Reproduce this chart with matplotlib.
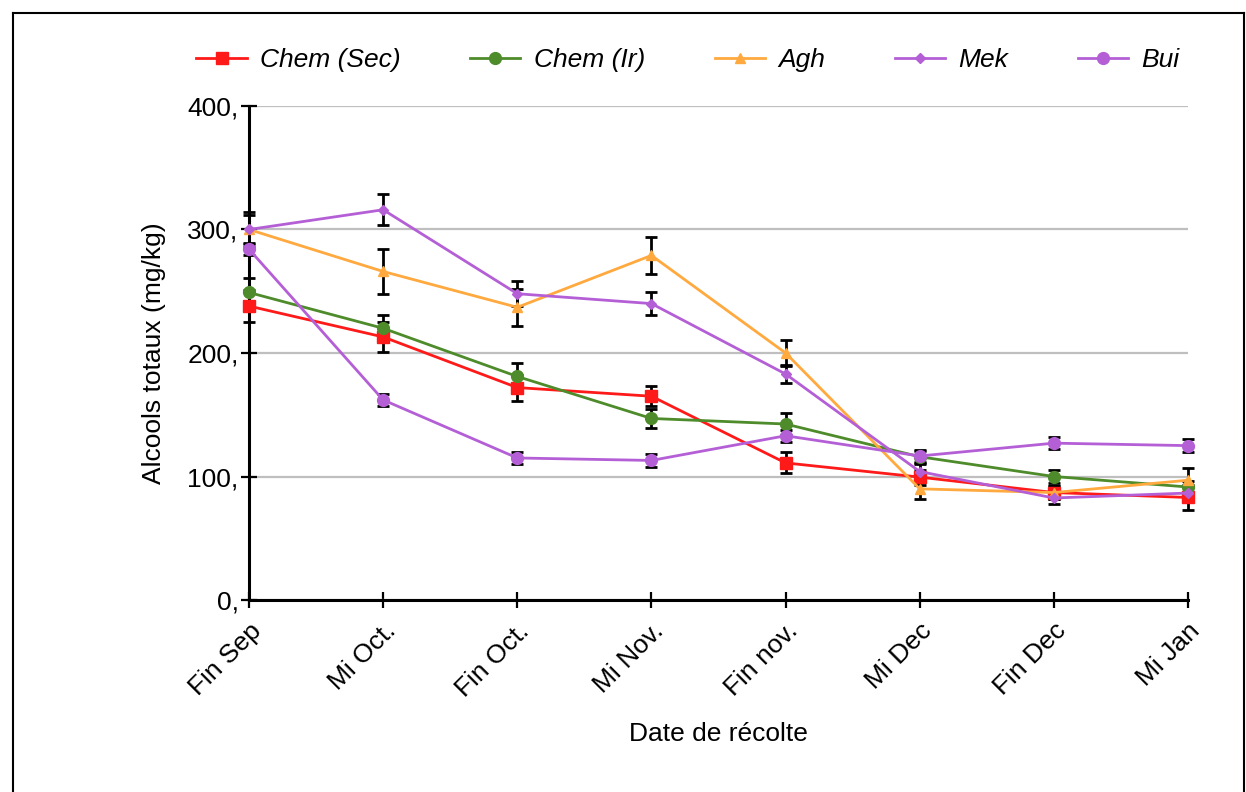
import matplotlib
matplotlib.use("Agg")
import matplotlib.pyplot as plt
from matplotlib.lines import Line2D
from matplotlib.ticker import FuncFormatter

plt.rcParams['font.family'] = ['Liberation Sans', 'DejaVu Sans']

categories = ["Fin Sep", "Mi Oct.", "Fin Oct.", "Mi Nov.", "Fin nov.", "Mi Dec", "Fin Dec", "Mi Jan"]

chem_sec = [238, 213, 172, 165, 111, 99.5, 87, 83]
chem_sec_err = [13, 12, 10.5, 8, 8.5, 6, 5, 10]
chem_ir = [249, 220, 181, 147, 142.5, 116, 100, 91.5]
chem_ir_err = [12, 11, 11, 8, 9, 5, 5, 5]
agh = [300, 266, 237, 279, 200, 90, 87, 97]
agh_err = [12, 18, 15, 15, 10.5, 8, 5, 10]
mek = [300, 316, 248, 240, 183, 104, 82.6, 86.6]
mek_err = [14, 12.5, 10, 9.5, 7, 6, 5, 5]
bui = [284, 162, 115, 113, 133, 116.6, 127, 125]
bui_err = [5, 5, 5, 5, 5, 5, 5, 5]

series = [
    ("Chem (Sec)", chem_sec, chem_sec_err, "#FF1A1A", "s", 8),
    ("Chem (Ir)", chem_ir, chem_ir_err, "#4E8B2A", "o", 8.5),
    ("Agh", agh, agh_err, "#FFA93E", "^", 7),
    ("Mek", mek, mek_err, "#B45FD6", "D", 5),
    ("Bui", bui, bui_err, "#B45FD6", "o", 8.5),
]

FS = 19
W, H = 1246, 792
fig = plt.figure(figsize=(W / 100, H / 100), dpi=100)
ax = fig.add_axes([249 / W, 1 - 600 / H, (1188 - 249) / W, (600 - 106) / H])

x = list(range(len(categories)))
handles = []
for name, vals, err, col, mk, ms in series:
    eb = ax.errorbar(x, vals, yerr=err, fmt='none', ecolor='black', elinewidth=2,
                     capsize=4.5, capthick=2, zorder=3)
    for art in eb.lines[1] + eb.lines[2]:
        art.set_clip_on(False)
    h, = ax.plot(x, vals, color=col, marker=mk, markersize=ms, linewidth=2,
                 markeredgecolor=col, zorder=4, label=name, clip_on=False)
    handles.append(h)

ax.set_xlim(0, len(categories) - 1)
ax.set_ylim(0, 400)
ax.set_yticks([0, 100, 200, 300, 400])
ax.yaxis.set_major_formatter(FuncFormatter(lambda v, p: f"{v:.0f},"))
ax.set_xticks(x)
ax.set_xticklabels(categories, rotation=45, ha='right', rotation_mode='anchor')

ax.grid(axis='y', color='#BFBFBF', linewidth=1.6, zorder=0)
ax.set_axisbelow(True)
for s in ['top', 'right']:
    ax.spines[s].set_visible(False)
ax.spines['left'].set_linewidth(2.2)
ax.spines['bottom'].set_linewidth(2.2)
ax.tick_params(axis='both', direction='inout', length=11, width=1.6, labelsize=FS, colors='black')
ax.tick_params(axis='y', pad=2)
ax.tick_params(axis='x', pad=8)

ax.set_xlabel("Date de récolte", fontsize=FS, labelpad=15)
ax.set_ylabel("Alcools totaux (mg/kg)", fontsize=FS, labelpad=15)

leg = fig.legend(handles=handles, loc='center', bbox_to_anchor=(688 / W, 1 - 60 / H),
                 ncol=5, frameon=False, handlelength=1.9, handletextpad=0.5,
                 columnspacing=2.65, prop={'size': FS, 'style': 'italic'})

# figure frame
lw = 1.5
fig.add_artist(Line2D([13 / W, 13 / W], [0, 1 - 13 / H], color='black', lw=lw, transform=fig.transFigure))
fig.add_artist(Line2D([13 / W, 1244 / W], [1 - 13 / H, 1 - 13 / H], color='black', lw=lw, transform=fig.transFigure))
fig.add_artist(Line2D([1244 / W, 1244 / W], [0, 1 - 13 / H], color='black', lw=lw, transform=fig.transFigure))

fig.savefig("out.png", dpi=100)
